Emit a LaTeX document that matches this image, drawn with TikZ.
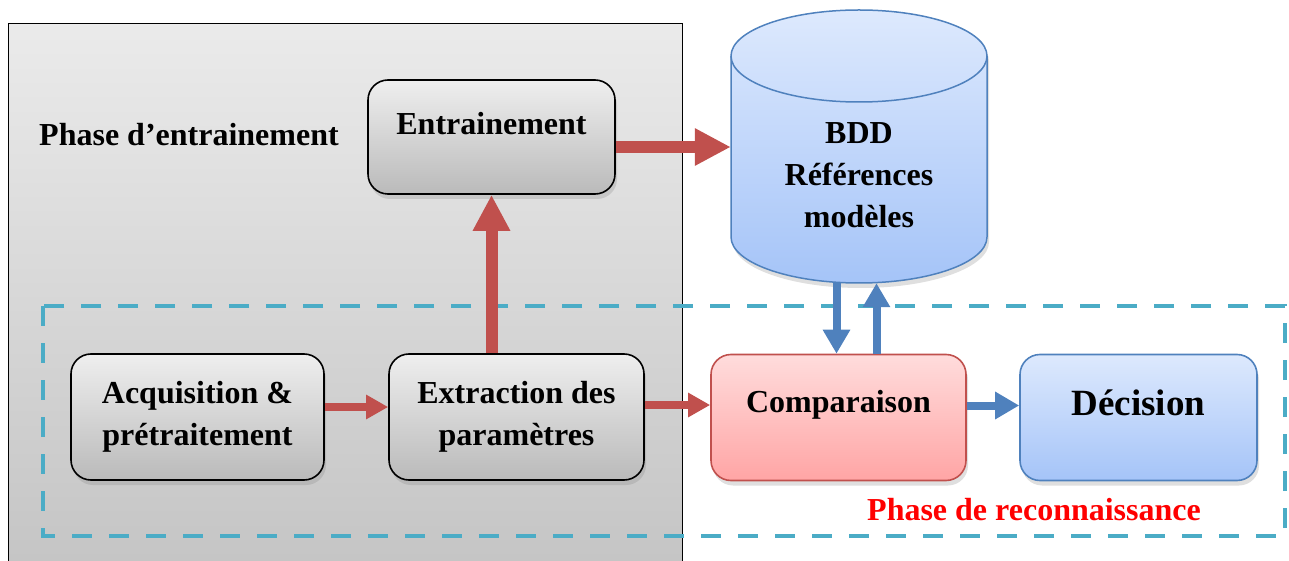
\documentclass[tikz,border=0pt]{standalone}
\usepackage{fontspec}
\setmainfont{Liberation Serif}
\usetikzlibrary{arrows.meta,shadows}

\definecolor{arrowred}{HTML}{C0504D}
\definecolor{arrowblue}{HTML}{4F81BD}
\definecolor{dashcyan}{HTML}{4BACC6}
\definecolor{pinktop}{HTML}{FFDCDC}
\definecolor{pinkbot}{HTML}{FFA5A5}
\definecolor{bluetop}{HTML}{DDE9FD}
\definecolor{bluebot}{HTML}{A5C4F8}

\begin{document}
\begin{tikzpicture}[
    x=1pt, y=1pt,
    font=\bfseries\fontsize{32}{42}\selectfont,
    box/.style={rounded corners=20pt, line width=1.6pt, align=center,
      drop shadow={shadow xshift=2pt, shadow yshift=-5pt, opacity=0.25}},
    graybox/.style={box, draw=black, top color=gray!13, bottom color=gray!54},
    pinkbox/.style={box, draw=arrowred, top color=pinktop, bottom color=pinkbot},
    bluebox/.style={box, draw=arrowblue, top color=bluetop, bottom color=bluebot},
    redarrow/.style={arrowred, line width=8pt, -{Triangle[width=23pt,length=22pt]}},
    bigredarrow/.style={arrowred, line width=12pt, -{Triangle[width=35pt,length=36pt]}},
    bluearrow/.style={arrowblue, line width=8pt, -{Triangle[width=26pt,length=24pt]}}
  ]
  \useasboundingbox (0,0) rectangle (1289,560);

  % training frame and recognition frame
  \path[draw=black, line width=1pt, top color=gray!16, bottom color=gray!46]
    (8,536) rectangle (682,-10);
  \draw[dashcyan, line width=4pt, dash pattern=on 20pt off 17pt]
    (43,254) rectangle (1285,24);

  % database
  \path[draw=arrowblue, line width=1.5pt, top color=bluetop, bottom color=bluebot,
      drop shadow={shadow xshift=2pt, shadow yshift=-5pt, opacity=0.25}]
    (731,504) -- (731,323) arc[start angle=180, end angle=360, x radius=128pt, y radius=46pt]
    -- (987,504) arc[start angle=0, end angle=180, x radius=128pt, y radius=46pt] -- cycle;
  \draw[arrowblue, line width=1.5pt]
    (731,504) arc[start angle=180, end angle=360, x radius=128pt, y radius=46pt];

  \node[align=center, minimum width=256pt, minimum height=216pt] (bdd) at (859,385)
    {BDD\\Références\\modèles};

  \node (phtrain) at (189,425) {Phase d’entrainement};
  \node[text=red] (phreco) at (1034,50) {Phase de reconnaissance};

  \node[graybox, minimum width=247pt, minimum height=114pt, text height=22pt, text depth=26pt]
    (entr) at (491.5,423) {Entrainement};
  \node[graybox, minimum width=253pt, minimum height=126pt] (acq) at (197.5,143)
    {Acquisition \&\\prétraitement};
  \node[graybox, minimum width=255pt, minimum height=126pt] (ext) at (516.5,143)
    {Extraction des\\paramètres};
  \node[pinkbox, minimum width=255pt, minimum height=126pt, text height=22pt, text depth=32pt]
    (cmp) at (838.5,142.5) {Comparaison};
  \node[bluebox, minimum width=237pt, minimum height=126pt, text height=26pt, text depth=31pt,
      font=\bfseries\fontsize{37}{44}\selectfont]
    (dec) at (1138.5,142.5) {Décision};

  % arrows
  \draw[redarrow] ([yshift=10pt]acq.east) -- ([yshift=10pt]ext.west);
  \draw[redarrow] ([yshift=12pt]ext.east) -- ([yshift=12pt]ext.east -| cmp.west);
  \draw[bigredarrow] (ext.north -| entr.south) -- (entr.south);
  \draw[bigredarrow] ([yshift=-10pt]entr.east) -- ([yshift=-10pt]entr.east -| bdd.west);
  \draw[bluearrow] ([yshift=12pt]cmp.east) -- ([yshift=12pt]cmp.east -| dec.west);
  \draw[bluearrow] ([xshift=-2pt]cmp.north |- bdd.south) -- ([xshift=-2pt]cmp.north);
  \draw[bluearrow] ([xshift=38pt]cmp.north) -- ([xshift=38pt]cmp.north |- bdd.south);
\end{tikzpicture}
\end{document}
